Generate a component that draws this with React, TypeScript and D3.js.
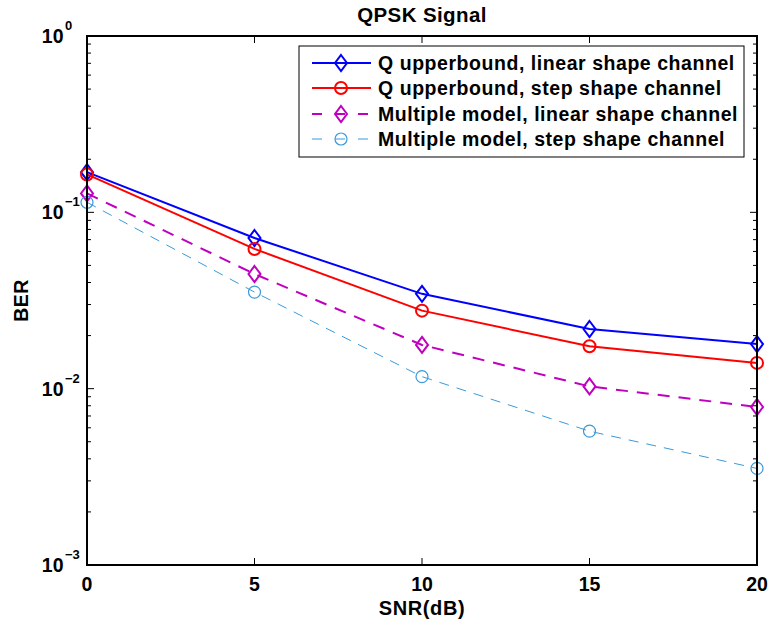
import React from "react";
import * as d3 from "d3";

const snr = [0, 5, 10, 15, 20];
const qLinear = [0.169, 0.0715, 0.0345, 0.0218, 0.0179];
const qStep = [0.164, 0.062, 0.0277, 0.0174, 0.0140];
const mmLinear = [0.128, 0.0447, 0.0177, 0.0103, 0.00787];
const mmStep = [0.114, 0.0353, 0.0117, 0.00574, 0.00353];
const xTicks = [0, 5, 10, 15, 20];
const yDecades = [-3, -2, -1, 0];
const seriesNames = [
  "Q upperbound, linear shape channel",
  "Q upperbound, step shape channel",
  "Multiple model, linear shape channel",
  "Multiple model, step shape channel",
];

const W = 771, H = 626;
const L = 87, R = 757, T = 36, B = 565;

export default function App() {
  const x = d3.scaleLinear().domain([0, 20]).range([L, R]);
  const y = d3.scaleLog().domain([1e-3, 1]).range([B, T]);
  const font = "'Liberation Sans', Arial, Helvetica, sans-serif";

  const series = [
    { name: seriesNames[0], data: qLinear, color: "#0000ff", marker: "diamond", dash: null, width: 2 },
    { name: seriesNames[1], data: qStep, color: "#ff0000", marker: "circle", dash: null, width: 2 },
    { name: seriesNames[2], data: mmLinear, color: "#bf00bf", marker: "diamond", dash: "12,9", width: 2 },
    { name: seriesNames[3], data: mmStep, color: "#3a9ad9", marker: "circle", dash: "10,8", width: 1 },
  ];

  const line = d3.line<number>().x((_, i) => x(snr[i])).y((d) => y(d));

  const marker = (kind: string, cx: number, cy: number, color: string, w: number, key: string) =>
    kind === "diamond" ? (
      <path key={key} d={`M${cx},${cy - 8}L${cx + 6},${cy}L${cx},${cy + 8}L${cx - 6},${cy}Z`} fill="none" stroke={color} strokeWidth={2} />
    ) : (
      <circle key={key} cx={cx} cy={cy} r={6} fill="none" stroke={color} strokeWidth={w === 1 ? 1.2 : 2} />
    );

  const minor: number[] = [];
  for (let e = -3; e < 0; e++) for (let m = 2; m <= 9; m++) minor.push(m * Math.pow(10, e));

  const legendRows = [63, 88, 114, 139];

  return (
    <svg width={W} height={H} style={{ position: "absolute", left: 0, top: 0, background: "#fff" }} fontFamily={font}>
      <rect x={0} y={0} width={W} height={H} fill="#fff" />
      {series.map((s, si) => (
        <g key={si}>
          <path d={line(s.data)!} fill="none" stroke={s.color} strokeWidth={s.width} strokeDasharray={s.dash ?? undefined} />
          {s.data.map((d, i) => marker(s.marker, x(snr[i]), y(d), s.color, s.width, `m${si}-${i}`))}
        </g>
      ))}
      {xTicks.slice(1, -1).map((t) => (
        <g key={"xt" + t}>
          <line x1={x(t)} x2={x(t)} y1={B} y2={B - 7} stroke="#000" strokeWidth={1} />
          <line x1={x(t)} x2={x(t)} y1={T} y2={T + 7} stroke="#000" strokeWidth={1} />
        </g>
      ))}
      {yDecades.slice(1, -1).map((e) => (
        <g key={"yt" + e}>
          <line x1={L} x2={L + 7} y1={y(Math.pow(10, e))} y2={y(Math.pow(10, e))} stroke="#000" strokeWidth={1} />
          <line x1={R} x2={R - 7} y1={y(Math.pow(10, e))} y2={y(Math.pow(10, e))} stroke="#000" strokeWidth={1} />
        </g>
      ))}
      {minor.map((v, i) => (
        <g key={"mn" + i}>
          <line x1={L} x2={L + 4} y1={y(v)} y2={y(v)} stroke="#000" strokeWidth={1} />
          <line x1={R} x2={R - 4} y1={y(v)} y2={y(v)} stroke="#000" strokeWidth={1} />
        </g>
      ))}
      <rect x={L} y={T} width={R - L} height={B - T} fill="none" stroke="#000" strokeWidth={2} />
      {xTicks.map((t) => (
        <text key={"xl" + t} x={x(t)} y={B + 26} textAnchor="middle" fontSize={19.5} fontWeight="bold">{t}</text>
      ))}
      {yDecades.map((e) => {
        const yy = y(Math.pow(10, e));
        return (
          <g key={"yl" + e}>
            <text x={63.5} y={yy + 7} textAnchor="end" fontSize={19.5} fontWeight="bold">10</text>
            <text x={65} y={yy - 6} textAnchor="start" fontSize={13} fontWeight="bold">{e === 0 ? "0" : "\u2212" + Math.abs(e)}</text>
          </g>
        );
      })}
      <text x={(L + R) / 2} y={22} textAnchor="middle" fontSize={20.5} fontWeight="bold" letterSpacing={0.4}>QPSK Signal</text>
      <text x={(L + R) / 2} y={615} textAnchor="middle" fontSize={20} fontWeight="bold" letterSpacing={0.6}>SNR(dB)</text>
      <text transform={`translate(27.5,${(T + B) / 2}) rotate(-90)`} textAnchor="middle" fontSize={19.5} fontWeight="bold" letterSpacing={0.4}>BER</text>
      <rect x={299} y={46} width={445} height={111} fill="#fff" stroke="#000" strokeWidth={1} />
      {series.map((s, i) => (
        <g key={"lg" + i}>
          <line x1={312} x2={371} y1={legendRows[i]} y2={legendRows[i]} stroke={s.color} strokeWidth={s.width} strokeDasharray={s.dash ? "10,13" : undefined} />
          {marker(s.marker, 341, legendRows[i], s.color, s.width, "lgm" + i)}
          <text x={378} y={legendRows[i] + 7} fontSize={19.5} fontWeight="bold" letterSpacing={0.55}>{s.name}</text>
        </g>
      ))}
    </svg>
  );
}
